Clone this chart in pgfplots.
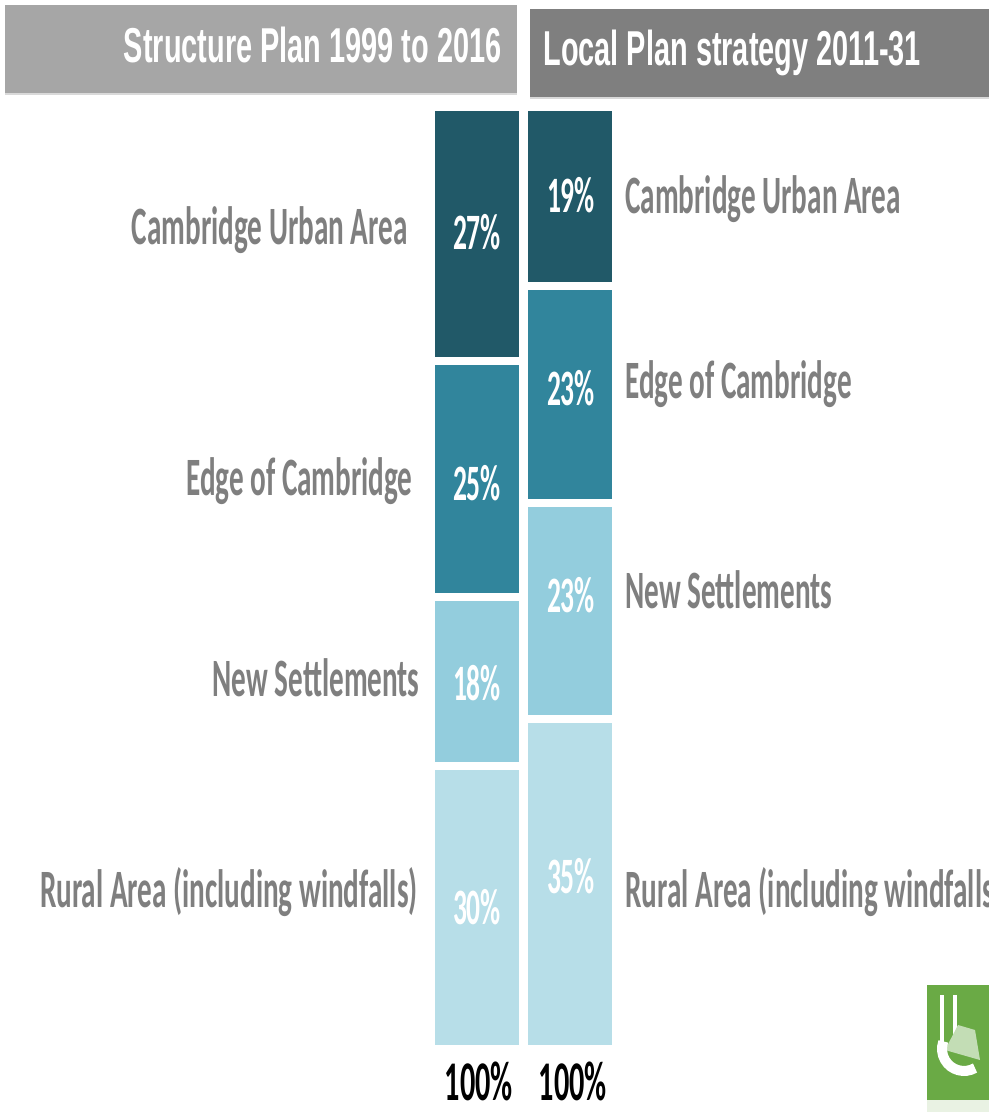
\documentclass[border=0pt]{standalone}
\usepackage{pgfplots}
\pgfplotsset{compat=1.18}
\usepackage{fontspec}
\setmainfont{Carlito}
\newfontfamily\labfont{Carlito}[FakeStretch=0.54]
\newfontfamily\hdrfont{Liberation Sans}[FakeStretch=0.59]
\definecolor{c1}{HTML}{215968}
\definecolor{c2}{HTML}{31859C}
\definecolor{c3}{HTML}{93CDDD}
\definecolor{c4}{HTML}{B7DEE8}
\definecolor{labgray}{HTML}{7F7F7F}
\definecolor{hl}{HTML}{A6A6A6}
\definecolor{hr}{HTML}{7F7F7F}
\definecolor{logo}{HTML}{6AAA45}
\begin{document}
\begin{tikzpicture}
\clip (0,0) rectangle (494.5pt,-556pt);
\fill[white] (0,0) rectangle (494.5pt,-556pt);
\begin{scope}[x=0.5pt,y=-0.5pt]
  \fill[hl] (5,5) rectangle (517,93);
  \draw[gray!30, line width=1pt] (5,94) -- (517,94);
  \fill[hr] (530,9) rectangle (989,97);
  \draw[gray!30, line width=1pt] (530,98) -- (989,98);
  \node[anchor=base east, text=white, inner sep=0pt, font=\hdrfont\bfseries\fontsize{24.5pt}{28pt}\selectfont] at (502,63) {Structure Plan 1999 to 2016};
  \node[anchor=base west, text=white, inner sep=0pt, font=\hdrfont\bfseries\fontsize{24.5pt}{28pt}\selectfont] at (543,66) {Local Plan strategy 2011-31};
\end{scope}
\begin{axis}[
  at={(215pt,-524.5pt)}, anchor=south west,
  scale only axis, width=93.5pt, height=471pt,
  hide axis, clip=false,
  xmin=-0.5, xmax=1.5, ymin=0, ymax=100,
  ybar stacked, bar width=46pt,
]
\addplot[fill=c4, draw=white, line width=4pt] coordinates {(0,30) (1,35)};
\addplot[fill=c3, draw=white, line width=4pt] coordinates {(0,18) (1,23)};
\addplot[fill=c2, draw=white, line width=4pt] coordinates {(0,25) (1,23)};
\addplot[fill=c1, draw=white, line width=4pt] coordinates {(0,27) (1,19)};
\end{axis}
\begin{scope}[x=0.5pt,y=-0.5pt,
  lab/.style={text=labgray, inner sep=0pt, font=\labfont\bfseries\fontsize{27pt}{30pt}\selectfont},
  pct/.style={text=white, inner sep=0pt, anchor=base, font=\labfont\bfseries\fontsize{25.5pt}{28pt}\selectfont}]
  % left labels
  \node[lab, anchor=base east] at (408,245) {Cambridge Urban Area};
  \node[lab, anchor=base east] at (413,495) {Edge of Cambridge};
  \node[lab, anchor=base east] at (420,696) {New Settlements};
  \node[lab, anchor=base east] at (418,907) {Rural Area (including windfalls)};
  % right labels
  \node[lab, anchor=base west] at (625,214) {Cambridge Urban Area};
  \node[lab, anchor=base west] at (625,398) {Edge of Cambridge};
  \node[lab, anchor=base west] at (625,608) {New Settlements};
  \node[lab, anchor=base west] at (625,907) {Rural Area (including windfalls)};
  % percentages
  \node[pct] at (477,250) {27\%};
  \node[pct] at (477,500) {25\%};
  \node[pct] at (477,700) {18\%};
  \node[pct] at (477,924) {30\%};
  \node[pct] at (571,213) {19\%};
  \node[pct] at (571,405) {23\%};
  \node[pct] at (571,612) {23\%};
  \node[pct] at (571,893) {35\%};
  \node[anchor=base, inner sep=0pt, text=black, font=\labfont\bfseries\fontsize{28pt}{30pt}\selectfont] at (479,1100) {100\%};
  \node[anchor=base, inner sep=0pt, text=black, font=\labfont\bfseries\fontsize{28pt}{30pt}\selectfont] at (573,1100) {100\%};
  % logo
  \fill[logo] (927,985) rectangle (989,1100);
  \fill[white!85!logo] (927,1100) rectangle (989,1112);
  \draw[white, line width=2pt] (942,995) -- (942,1050);
  \draw[white, line width=2pt] (955,995) -- (955,1050);
  \fill[white!60!logo] (945,1050) -- (958,1025) -- (975,1030) -- (980,1060) -- cycle;
  \draw[white, line width=5pt] (975,1068) arc (60:200:22);
\end{scope}
\end{tikzpicture}
\end{document}
